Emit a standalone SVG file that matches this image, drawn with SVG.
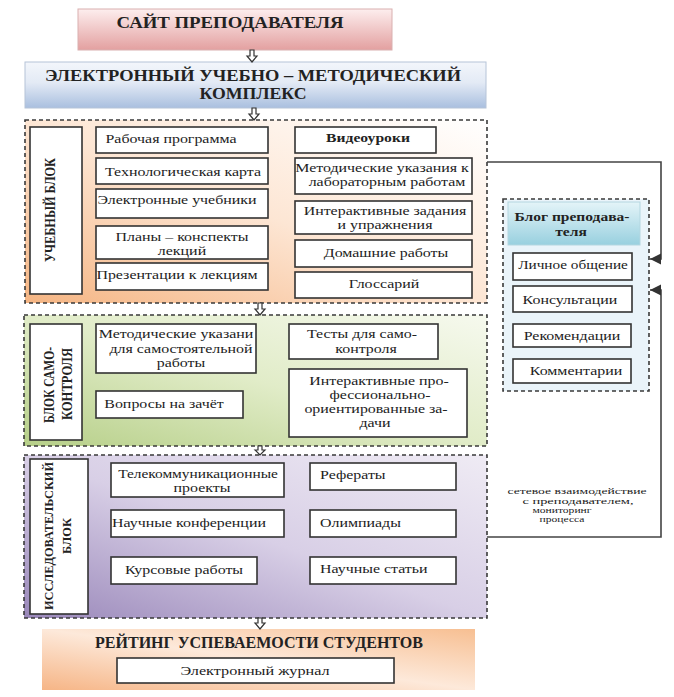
<svg xmlns="http://www.w3.org/2000/svg" width="674" height="697" viewBox="0 0 674 697" font-family="'Liberation Serif', 'Times New Roman', serif">
<defs>
<linearGradient id="gSite" x1="0" y1="0" x2="0" y2="1"><stop offset="0" stop-color="#fdeeee"/><stop offset="1" stop-color="#e3a0a0"/></linearGradient>
<linearGradient id="gEumk" x1="0" y1="0" x2="0" y2="1"><stop offset="0" stop-color="#f3f6fb"/><stop offset="0.45" stop-color="#e3eaf5"/><stop offset="1" stop-color="#a9bfdf"/></linearGradient>
<linearGradient id="gUch" x1="1" y1="0" x2="0" y2="1"><stop offset="0" stop-color="#ffffff"/><stop offset="0.5" stop-color="#fde6d4"/><stop offset="1" stop-color="#f5b583"/></linearGradient>
<linearGradient id="gSelf" x1="1" y1="0" x2="0" y2="1"><stop offset="0" stop-color="#f6f9ee"/><stop offset="0.5" stop-color="#e1ecc8"/><stop offset="1" stop-color="#b6cf88"/></linearGradient>
<linearGradient id="gRes" x1="0" y1="1" x2="1" y2="0"><stop offset="0" stop-color="#9a88ba"/><stop offset="0.5" stop-color="#d8cfe6"/><stop offset="1" stop-color="#efebf4"/></linearGradient>
<linearGradient id="gBlogH" x1="0" y1="0" x2="0" y2="1"><stop offset="0" stop-color="#e4f4f8"/><stop offset="1" stop-color="#98d0df"/></linearGradient>
<linearGradient id="gRate" x1="0" y1="1" x2="1" y2="0"><stop offset="0" stop-color="#f6b586"/><stop offset="0.5" stop-color="#fde9da"/><stop offset="1" stop-color="#f7bf92"/></linearGradient>
<marker id="ah" viewBox="0 0 8 8" refX="8" refY="4" markerWidth="7" markerHeight="7" orient="auto"><path d="M0,0 L8,4 L0,8 z" fill="#333"/></marker>
</defs>
<style>
text{font-family:"Liberation Serif","Times New Roman",serif;fill:#222;}
.t{font-size:13.5px;text-anchor:middle;}
.tl{font-size:13.5px;}
.b{font-weight:bold;}
.h{font-size:16px;font-weight:bold;text-anchor:middle;}
.box{fill:#fff;stroke:#333;stroke-width:1.6;}
.cont{stroke:#3a3a3a;stroke-width:1.6;stroke-dasharray:4 3;}
.arr{fill:#fff;stroke:#333;stroke-width:1.2;}
.conn{fill:none;stroke:#444;stroke-width:1.6;}
.small{font-size:9px;text-anchor:middle;}
</style>

<g id="site">
<rect x="78" y="9" width="314" height="41" fill="url(#gSite)" stroke="#d9b0b0" stroke-width="1"/>
<text class="h" x="230" y="28" textLength="227" lengthAdjust="spacingAndGlyphs">САЙТ ПРЕПОДАВАТЕЛЯ</text>
</g>

<g id="eumk">
<rect x="25" y="62" width="461" height="46" fill="url(#gEumk)" stroke="#b6c4d8" stroke-width="1"/>
<text class="h" x="253" y="81" style="font-size:17px" textLength="416" lengthAdjust="spacingAndGlyphs">ЭЛЕКТРОННЫЙ УЧЕБНО – МЕТОДИЧЕСКИЙ</text>
<text class="h" x="253" y="99" style="font-size:17px" textLength="107" lengthAdjust="spacingAndGlyphs">КОМПЛЕКС</text>
</g>

<g id="ucheb">
<rect class="cont" x="25" y="120" width="462" height="183" fill="url(#gUch)"/>
<rect class="box" x="30" y="127" width="52" height="167"/>
<text class="h" transform="translate(55,210) rotate(-90)" style="font-size:15px" textLength="104" lengthAdjust="spacingAndGlyphs">УЧЕБНЫЙ БЛОК</text>
</g>
<g id="n-rab"><rect class="box" x="96" y="127" width="172" height="26"/><text class="t" transform="translate(171,143) scale(1.18,1)">Рабочая программа</text></g>
<g id="n-tech"><rect class="box" x="96" y="158" width="172" height="26"/><text class="t" transform="translate(183,176) scale(1.18,1)">Технологическая карта</text></g>
<g id="n-el"><rect class="box" x="96" y="189" width="172" height="29"/><text class="t" transform="translate(177,204) scale(1.18,1)">Электронные учебники</text></g>
<g id="n-plan"><rect class="box" x="96" y="226" width="172" height="33"/><text class="t" transform="translate(182,241) scale(1.18,1)">Планы – конспекты</text><text class="t" transform="translate(182,255) scale(1.18,1)">лекций</text></g>
<g id="n-pres"><rect class="box" x="96" y="263" width="172" height="27"/><text class="t" transform="translate(177,279) scale(1.18,1)">Презентации к лекциям</text></g>
<g id="n-video"><rect class="box" x="295" y="127" width="141" height="26"/><text class="t b" transform="translate(368,142) scale(1.16,1)">Видеоуроки</text></g>
<g id="n-metlab"><rect class="box" x="295" y="158" width="177" height="36"/><text class="t" transform="translate(382,172) scale(1.18,1)">Методические указания к</text><text class="t" transform="translate(387,186) scale(1.18,1)">лабораторным работам</text></g>
<g id="n-inter"><rect class="box" x="295" y="201" width="177" height="33"/><text class="t" transform="translate(385,215) scale(1.18,1)">Интерактивные задания</text><text class="t" transform="translate(385,229) scale(1.18,1)">и упражнения</text></g>
<g id="n-dom"><rect class="box" x="295" y="240" width="177" height="27"/><text class="t" transform="translate(386,257) scale(1.18,1)">Домашние работы</text></g>
<g id="n-gloss"><rect class="box" x="295" y="272" width="177" height="26"/><text class="t" transform="translate(384,288) scale(1.18,1)">Глоссарий</text></g>

<g id="blog">
<rect class="cont" x="503" y="199" width="146" height="192" fill="#eaf4fa" stroke="#666"/>
<rect x="508" y="202" width="132" height="43" fill="url(#gBlogH)" stroke="#b3d6e0" stroke-width="1"/>
<text class="t b" transform="translate(572,221) scale(1.15,1)">Блог преподава-</text>
<text class="t b" transform="translate(571,236) scale(1.15,1)">теля</text>
</g>
<g id="n-lich"><rect class="box" x="513" y="253" width="119" height="27"/><text class="t" transform="translate(573,269) scale(1.13,1)">Личное общение</text></g>
<g id="n-kons"><rect class="box" x="513" y="286" width="119" height="26"/><text class="t" transform="translate(570,304) scale(1.18,1)">Консультации</text></g>
<g id="n-rek"><rect class="box" x="513" y="324" width="118" height="23"/><text class="t" transform="translate(572,340) scale(1.18,1)">Рекомендации</text></g>
<g id="n-kom"><rect class="box" x="513" y="359" width="118" height="24"/><text class="t" transform="translate(576,375) scale(1.18,1)">Комментарии</text></g>

<g id="self">
<rect class="cont" x="24" y="315" width="463" height="131" fill="url(#gSelf)"/>
<rect class="box" x="30" y="324" width="52" height="116"/>
<text class="h" transform="translate(54,385) rotate(-90)" style="font-size:14px" textLength="76" lengthAdjust="spacingAndGlyphs">БЛОК САМО-</text>
<text class="h" transform="translate(72,384) rotate(-90)" style="font-size:14px" textLength="72" lengthAdjust="spacingAndGlyphs">КОНТРОЛЯ</text>
</g>
<g id="n-metsam"><rect class="box" x="96" y="324" width="160" height="49"/><text class="t" transform="translate(176,338) scale(1.18,1)">Методические указани</text><text class="t" transform="translate(181,353) scale(1.18,1)">для самостоятельной</text><text class="t" transform="translate(181,367) scale(1.18,1)">работы</text></g>
<g id="n-vopr"><rect class="box" x="96" y="391" width="147" height="27"/><text class="t" transform="translate(164,408) scale(1.18,1)">Вопросы на зачёт</text></g>
<g id="n-test"><rect class="box" x="289" y="324" width="149" height="35"/><text class="t" transform="translate(362,338) scale(1.18,1)">Тесты для само-</text><text class="t" transform="translate(366,353) scale(1.18,1)">контроля</text></g>
<g id="n-interprof"><rect class="box" x="289" y="369" width="178" height="68"/><text class="t" transform="translate(379,385) scale(1.18,1)">Интерактивные про-</text><text class="t" transform="translate(380,399) scale(1.18,1)">фессионально-</text><text class="t" transform="translate(376,413) scale(1.18,1)">ориентированные за-</text><text class="t" transform="translate(375,427) scale(1.18,1)">дачи</text></g>

<g id="research">
<rect class="cont" x="24" y="455" width="463" height="163" fill="url(#gRes)"/>
<rect class="box" x="30" y="459" width="58" height="155"/>
<text class="h" transform="translate(53,536) rotate(-90)" style="font-size:13px" textLength="148" lengthAdjust="spacingAndGlyphs">ИССЛЕДОВАТЕЛЬСКИЙ</text>
<text class="h" transform="translate(71,536) rotate(-90)" style="font-size:13px" textLength="36" lengthAdjust="spacingAndGlyphs">БЛОК</text>
</g>
<g id="n-tele"><rect class="box" x="111" y="463" width="173" height="34"/><text class="t" transform="translate(198,478) scale(1.14,1)">Телекоммуникационные</text><text class="t" transform="translate(202,492) scale(1.18,1)">проекты</text></g>
<g id="n-konf"><rect class="box" x="111" y="510" width="173" height="27"/><text class="t" transform="translate(189,527) scale(1.18,1)">Научные конференции</text></g>
<g id="n-kurs"><rect class="box" x="111" y="557" width="146" height="27"/><text class="t" transform="translate(184,574) scale(1.18,1)">Курсовые  работы</text></g>
<g id="n-ref"><rect class="box" x="310" y="463" width="146" height="27"/><text class="tl" transform="translate(320,479) scale(1.18,1)">Рефераты</text></g>
<g id="n-olimp"><rect class="box" x="310" y="510" width="146" height="27"/><text class="tl" transform="translate(320,527) scale(1.18,1)">Олимпиады</text></g>
<g id="n-stat"><rect class="box" x="310" y="557" width="146" height="27"/><text class="tl" transform="translate(320,573) scale(1.18,1)">Научные статьи</text></g>

<g id="rating">
<rect x="42" y="629" width="433" height="61" fill="url(#gRate)"/>
<text class="h" x="259" y="648" textLength="328" lengthAdjust="spacingAndGlyphs">РЕЙТИНГ УСПЕВАЕМОСТИ СТУДЕНТОВ</text>
<rect class="box" x="117" y="658" width="277" height="25"/>
<text class="t" transform="translate(255,675) scale(1.2,1)">Электронный журнал</text>
</g>

<g id="connectors">
<path class="arr" d="M250,50 h4 v6 h3 l-5,6 l-5,-6 h3 z"/>
<path class="arr" d="M252,108 h4 v6 h3 l-5,6 l-5,-6 h3 z"/>
<path class="arr" d="M258,303 h4 v6 h3 l-5,6 l-5,-6 h3 z"/>
<path class="arr" d="M258,446 h4 v4 h3 l-5,5 l-5,-5 h3 z"/>
<path class="arr" d="M258,618 h4 v5 h3 l-5,6 l-5,-6 h3 z"/>
<path class="conn" d="M487,162 H661 V259 H650" marker-end="url(#ah)"/>
<path class="conn" d="M487,537 H661 V290 H650" marker-end="url(#ah)"/>
<text class="small" x="577" y="494" textLength="139" lengthAdjust="spacingAndGlyphs">сетевое  взаимодействие</text>
<text class="small" x="578" y="503.5" textLength="111" lengthAdjust="spacingAndGlyphs">с преподавателем,</text>
<text class="small" x="562" y="513" textLength="59" lengthAdjust="spacingAndGlyphs">мониторинг</text>
<text class="small" x="562" y="522" textLength="45" lengthAdjust="spacingAndGlyphs">процесса</text>
</g>
</svg>
